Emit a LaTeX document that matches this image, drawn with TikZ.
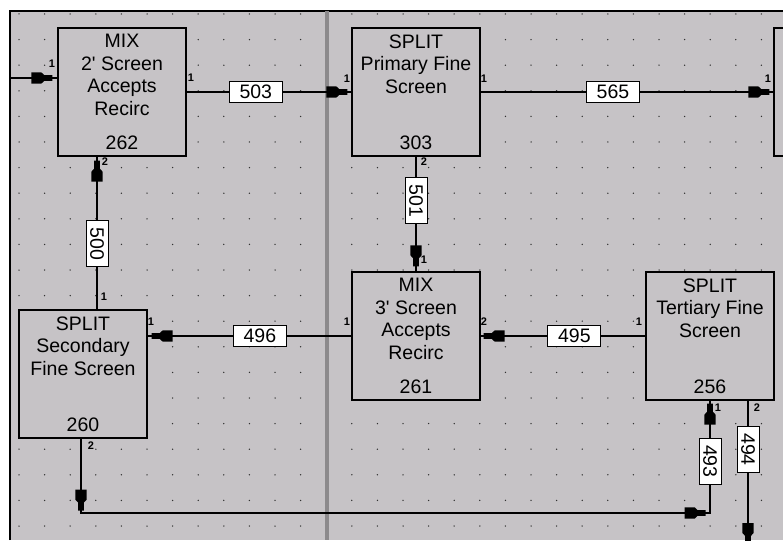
\documentclass[tikz,border=0pt]{standalone}
\usepackage{fontspec}
\setmainfont{Liberation Sans}
\usetikzlibrary{positioning,decorations.markings}

\definecolor{panel}{RGB}{198,195,198}
\definecolor{divider}{RGB}{140,138,140}
\definecolor{griddot}{RGB}{50,50,50}

% flow arrow head, drawn in the local frame of a marking
\newcommand{\flowtip}{\fill (0pt,2.8pt) -- (-8pt,2.8pt) -- (-11pt,5.6pt) -- (-21pt,5.6pt) -- (-21pt,-5.6pt) -- (-11pt,-5.6pt) -- (-8pt,-2.8pt) -- (0pt,-2.8pt) -- cycle;}

\begin{document}
\begin{tikzpicture}[x=1pt, y=-1pt,
  unit/.style={rectangle, draw, line width=1.3pt, fill=panel, minimum width=128pt, minimum height=128pt, inner sep=0pt},
  unitname/.style={align=center, inner sep=0pt, font=\fontsize{19.5}{22.5}\selectfont},
  unitnum/.style={inner sep=0pt, font=\fontsize{19.5}{22.5}\selectfont},
  tag/.style={rectangle, draw, fill=white, line width=1pt, minimum width=53pt, minimum height=21pt, inner sep=0pt, font=\fontsize{19.5}{22.5}\selectfont},
  vtag/.style={tag, rotate=-90, minimum width=46pt, minimum height=22pt},
  portnum/.style={inner sep=0pt, font=\fontsize{11}{11}\selectfont\bfseries},
  stream/.style={draw, line width=1.3pt, postaction={decorate}},
  tipat/.style={decoration={markings, mark=at position #1 with {\flowtip}}}
]
\useasboundingbox (0,0) rectangle (783,540);
\clip (0,0) rectangle (783,540);

% sheet
\fill[white] (0,0) rectangle (783,540);
\fill[panel] (10,11) rectangle (783,540);
\draw[line width=1.3pt] (10,540) -- (10,11) -- (783,11);
\foreach \i in {0,...,29}
  \foreach \j in {0,...,20}
    \fill[griddot] (19+25.6*\i, 14+25.6*\j) circle (0.75pt);
\fill[divider] (325,11) rectangle (329,540);

% units
\node[unit] (u262) at (122,92) {};
\node[unit] (u303) at (416,92) {};
\node[unit] (unext) at (838,92) {};
\node[unit] (u261) at (416,336) {};
\node[unit] (u256) at (710,336) {};
\node[unit] (u260) at (83,374) {};

\node[unitname, below=7pt of u262.north] (u262t) {MIX\\2\textquotesingle{} Screen\\Accepts\\Recirc};
\node[unitnum, above=7pt of u262.south] (u262c) {262};
\node[unitname, below=7pt of u303.north] (u303t) {SPLIT\\Primary Fine\\Screen};
\node[unitnum, above=7pt of u303.south] (u303c) {303};
\node[unitname, below=7pt of u261.north] (u261t) {MIX\\3\textquotesingle{} Screen\\Accepts\\Recirc};
\node[unitnum, above=7pt of u261.south] (u261c) {261};
\node[unitname, below=7pt of u256.north] (u256t) {SPLIT\\Tertiary Fine\\Screen};
\node[unitnum, above=7pt of u256.south] (u256c) {256};
\node[unitname, below=7pt of u260.north] (u260t) {SPLIT\\Secondary\\Fine Screen};
\node[unitnum, above=7pt of u260.south] (u260c) {260};

% free ends
\coordinate (feed262) at (10,78);
\coordinate (bend493) at (81,513);
\coordinate (sink494) at (748,548);

% streams
\draw[stream, tipat=-5pt] (feed262) -- (u262.west |- feed262);
\draw[stream, tipat=-4pt] (u262.east) -- (u303.west) node[tag, pos=0.42] (s503) {503};
\draw[stream, tipat=-4pt] (u303.east) -- (unext.west) node[tag, pos=0.452] (s565) {565};
\draw[stream, tipat=-5pt] (u303.south) -- (u261.north) node[vtag, pos=0.384] (s501) {501};
\draw[stream, tipat=-4pt] ([xshift=14pt]u260.north) -- ([xshift=-25pt]u262.south) node[vtag, pos=0.429] (s500) {500};
\draw[stream, tipat=-4pt] (u261.west) -- (u261.west -| u260.east) node[tag, pos=0.449] (s496) {496};
\draw[stream, tipat=-3pt] (u256.west) -- (u261.east) node[tag, pos=0.431] (s495) {495};
\draw[stream, decoration={markings, mark=at position 72pt with {\flowtip}, mark=at position 699pt with {\flowtip}, mark=at position -3pt with {\flowtip}}]
  ([xshift=-2pt]u260.south) -- (bend493) -| (u256.south) node[vtag, pos=0.73] (s493) {493};
\draw[stream, tipat=-4pt] ([xshift=38pt]u256.south) -- (sink494) node[vtag, pos=0.331] (s494) {494};

% port numbers
\node[portnum] (p262a) at (52,64) {1};
\node[portnum] (p262b) at (191,78) {1};
\node[portnum] (p262c) at (105,162) {2};
\node[portnum] (p303a) at (347,79) {1};
\node[portnum] (p303b) at (484,79) {1};
\node[portnum] (p303c) at (424,162) {2};
\node[portnum] (pnext) at (768,79) {1};
\node[portnum] (p261a) at (424,260) {1};
\node[portnum] (p261b) at (347,322) {1};
\node[portnum] (p261c) at (484,322) {2};
\node[portnum] (p256a) at (639,322) {1};
\node[portnum] (p256b) at (718,408) {1};
\node[portnum] (p256c) at (757,408) {2};
\node[portnum] (p260a) at (104,297) {1};
\node[portnum] (p260b) at (151,322) {1};
\node[portnum] (p260c) at (91,446) {2};
\end{tikzpicture}
\end{document}
